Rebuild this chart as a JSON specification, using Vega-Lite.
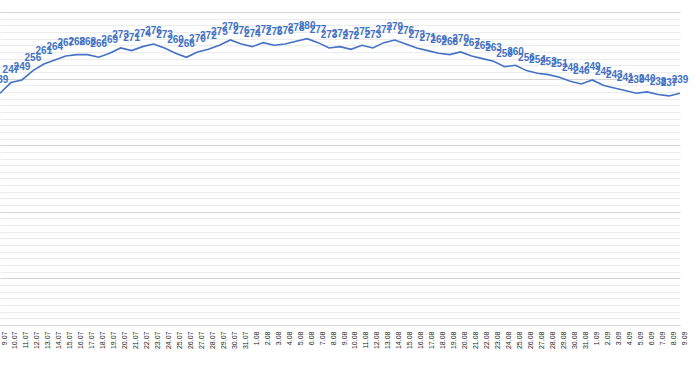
{
  "$schema": "https://vega.github.io/schema/vega-lite/v6.json",
  "autosize": "none",
  "width": 684,
  "height": 313,
  "padding": {"left": 0, "top": 12, "right": 16, "bottom": 41},
  "background": "#ffffff",
  "config": {"view": {"stroke": null}, "font": "Liberation Sans"},
  "data": {"values": [
    {"d": "9.07", "v": 239}, {"d": "10.07", "v": 247}, {"d": "11.07", "v": 249}, {"d": "12.07", "v": 256},
    {"d": "13.07", "v": 261}, {"d": "14.07", "v": 264}, {"d": "15.07", "v": 267}, {"d": "16.07", "v": 268},
    {"d": "17.07", "v": 268}, {"d": "18.07", "v": 266}, {"d": "19.07", "v": 269}, {"d": "20.07", "v": 273},
    {"d": "21.07", "v": 271}, {"d": "22.07", "v": 274}, {"d": "23.07", "v": 276}, {"d": "24.07", "v": 273},
    {"d": "25.07", "v": 269}, {"d": "26.07", "v": 266}, {"d": "27.07", "v": 270}, {"d": "28.07", "v": 272},
    {"d": "29.07", "v": 275}, {"d": "30.07", "v": 279}, {"d": "31.07", "v": 276}, {"d": "1.08", "v": 274},
    {"d": "2.08", "v": 277}, {"d": "3.08", "v": 275}, {"d": "4.08", "v": 276}, {"d": "5.08", "v": 278},
    {"d": "6.08", "v": 280}, {"d": "7.08", "v": 277}, {"d": "8.08", "v": 273}, {"d": "9.08", "v": 274},
    {"d": "10.08", "v": 272}, {"d": "11.08", "v": 275}, {"d": "12.08", "v": 273}, {"d": "13.08", "v": 277},
    {"d": "14.08", "v": 279}, {"d": "15.08", "v": 276}, {"d": "16.08", "v": 273}, {"d": "17.08", "v": 271},
    {"d": "18.08", "v": 269}, {"d": "19.08", "v": 268}, {"d": "20.08", "v": 270}, {"d": "21.08", "v": 267},
    {"d": "22.08", "v": 265}, {"d": "23.08", "v": 263}, {"d": "24.08", "v": 259}, {"d": "25.08", "v": 260},
    {"d": "26.08", "v": 256}, {"d": "27.08", "v": 254}, {"d": "28.08", "v": 253}, {"d": "29.08", "v": 251},
    {"d": "30.08", "v": 248}, {"d": "31.08", "v": 246}, {"d": "1.09", "v": 249}, {"d": "2.09", "v": 245},
    {"d": "3.09", "v": 243}, {"d": "4.09", "v": 241}, {"d": "5.09", "v": 239}, {"d": "6.09", "v": 240},
    {"d": "7.09", "v": 238}, {"d": "8.09", "v": 237}, {"d": "9.09", "v": 239}
  ]},
  "encoding": {
    "x": {
      "field": "d", "type": "ordinal", "sort": null,
      "scale": {"type": "point", "range": [0, 680], "padding": 0},
      "axis": {
        "title": null, "labelAngle": 270, "labelFontSize": 7, "labelColor": "#222222",
        "labelPadding": 6, "labelBaseline": "top", "ticks": false, "domain": true, "domainColor": "#d9d9d9", "grid": false,
        "labelOverlap": false
      }
    },
    "y": {
      "field": "v", "type": "quantitative",
      "scale": {"domain": [65, 300], "nice": false, "zero": false},
      "axis": {
        "title": null, "labels": false, "ticks": false, "domain": false, "grid": true,
        "values": [65,70,75,80,85,90,95,100,105,110,115,120,125,130,135,140,145,150,155,160,165,170,175,180,185,190,195,200,205,210,215,220,225,230,235,240,245,250,255,260,265,270,275,280,285,290,295,300],
        "gridColor": {"condition": {"test": "datum.value % 50 === 0", "value": "#d4d4d4"}, "value": "#ececec"},
        "gridWidth": 1
      }
    }
  },
  "layer": [
    {"mark": {"type": "line", "color": "#4472C4", "strokeWidth": 1.6}},
    {
      "mark": {"type": "text", "color": "#4472C4", "fontSize": 10, "baseline": "middle", "dy": -13, "fontWeight": "bold"},
      "encoding": {"text": {"field": "v", "type": "quantitative"}}
    }
  ]
}
